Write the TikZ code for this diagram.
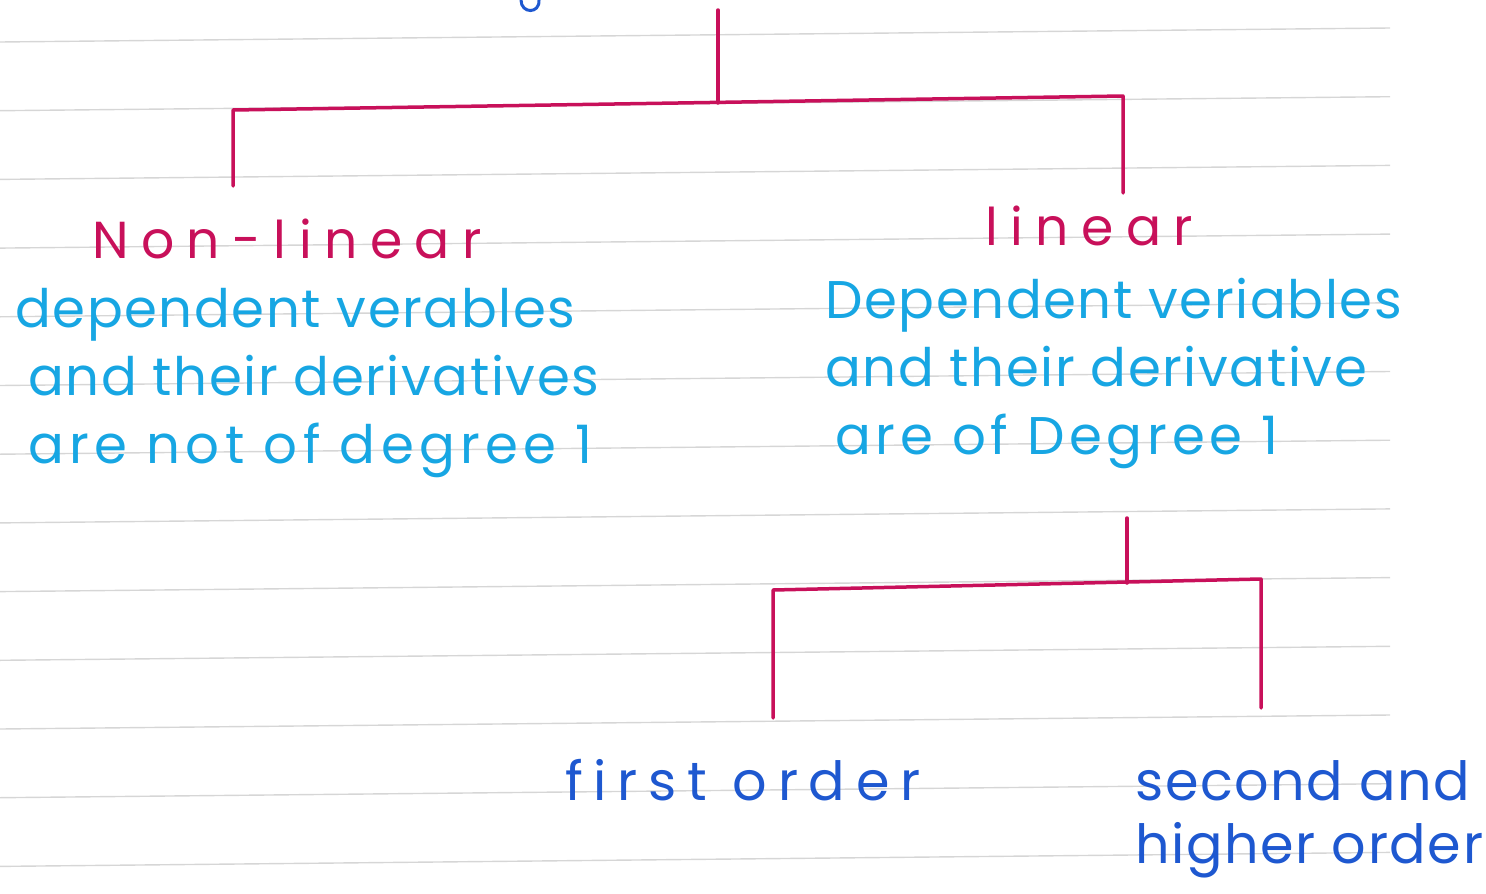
\documentclass[tikz,border=0pt]{standalone}
\usepackage{fontspec}
\setmainfont{Poppins}
\definecolor{penred}{HTML}{C8105A}
\definecolor{penblue}{HTML}{17A6E3}
\definecolor{pendark}{HTML}{1E58D0}
\definecolor{ruling}{HTML}{D6D6D6}
\newcommand\wide[1]{{\addfontfeature{LetterSpace=#1}}}
\begin{document}
\begin{tikzpicture}[x=1pt,y=-1pt,
    branch/.style={draw=penred,line width=3.5pt,line cap=round,line join=round},
    head/.style={penred,inner sep=0pt,anchor=base west,
      font=\fontsize{52}{60}\selectfont\addfontfeature{LetterSpace=24}},
    note/.style={penblue,inner sep=0pt,anchor=north west,align=left,
      font=\fontsize{53}{68}\selectfont\addfontfeature{LetterSpace=3}},
    leaf/.style={pendark,inner sep=0pt,align=left,
      font=\fontsize{54}{63}\selectfont\addfontfeature{LetterSpace=3}}]
  \useasboundingbox (0,0) rectangle (1486,894);
  % ruled paper
  \foreach \k in {0,...,12}
    \draw[ruling,line width=1.4pt] (0,{42+68.7*\k}) -- (1390,{28+68.7*\k});
  % end of a letter from the line above
  \draw[pendark,line width=3pt] (521,0) .. controls (521,14) and (540,14) .. (539,0);
  % first split
  \coordinate (root) at (718,10);
  \coordinate (split) at (718,103);
  \coordinate (lbar) at (233,110);
  \coordinate (rbar) at (1123,96);
  \coordinate (ltip) at (233,186);
  \coordinate (rtip) at (1123,193);
  \draw[branch] (root) -- (split);
  \draw[branch] (ltip) -- (lbar) -- (rbar) -- (rtip);
  \node[head] (nonlin) at (92,258) {Non-linear};
  \node[head] (lin) at (985,245) {linear};
  \node[note] (nonlindef) at (15,288)
    {dependent verables\\
     \hspace*{13pt}and their derivatives\\
     \hspace*{13pt}{\addfontfeature{LetterSpace=10}are not of degree 1}};
  \node[note] (lindef) at (825,278)
    {Dependent veriables\\
     and their derivative\\
     \hspace*{10pt}{\addfontfeature{LetterSpace=9}are of Degree 1}};
  % second split
  \coordinate (stem) at (1127,518);
  \coordinate (fork) at (1127,583);
  \coordinate (fl) at (773,590);
  \coordinate (fr) at (1261,579);
  \coordinate (fltip) at (773,718);
  \coordinate (frtip) at (1261,708);
  \draw[branch] (stem) -- (fork);
  \draw[branch] (fltip) -- (fl) -- (fr) -- (frtip);
  \node[leaf,anchor=base west,font=\fontsize{54}{63}\selectfont\addfontfeature{LetterSpace=20}]
    (first) at (565,800) {first order};
  \node[leaf,anchor=north west] (higher) at (1135,760) {second and\\higher order};
\end{tikzpicture}
\end{document}
